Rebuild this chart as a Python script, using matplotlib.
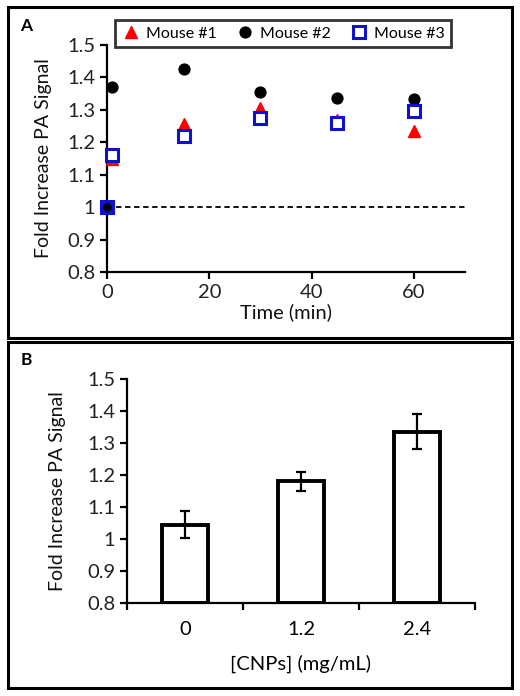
import matplotlib
matplotlib.use("Agg")
from matplotlib import pyplot as plt
from matplotlib.patches import Rectangle

plt.rcParams['font.family'] = ['Lato', 'DejaVu Sans']

# panel A: PA signal over time, per mouse
time_min = [0, 1, 15, 30, 45, 60]
mouse1 = [1.0, 1.15, 1.255, 1.305, 1.268, 1.235]
mouse2 = [1.0, 1.37, 1.425, 1.355, 1.338, 1.335]
mouse3 = [1.0, 1.16, 1.22, 1.275, 1.258, 1.298]

# panel B: PA signal vs CNP concentration
cnp_labels = ['0', '1.2', '2.4']
cnp_mean = [1.045, 1.18, 1.335]
cnp_err = [0.043, 0.03, 0.055]

fig = plt.figure(figsize=(5.2, 6.96), dpi=100)

# panel frames
for (x0, y0, x1, y1) in [(8, 7, 512, 338), (8, 342, 512, 688)]:
    fig.patches.append(Rectangle((x0 / 520, 1 - y1 / 696), (x1 - x0) / 520, (y1 - y0) / 696,
                                 transform=fig.transFigure, fill=False, edgecolor='black',
                                 linewidth=2.2))

def style_axes(ax):
    for s in ['top', 'right']:
        ax.spines[s].set_visible(False)
    for s in ['left', 'bottom']:
        ax.spines[s].set_linewidth(1.6)
    ax.tick_params(axis='both', width=1.6, length=5, labelsize=14.5, colors='black',
                   labelcolor='#222222')
    ax.set_ylim(0.8, 1.5)
    ax.set_yticks([0.8, 0.9, 1.0, 1.1, 1.2, 1.3, 1.4, 1.5])
    ax.set_yticklabels(['0.8', '0.9', '1', '1.1', '1.2', '1.3', '1.4', '1.5'])
    ax.set_ylabel('Fold Increase PA Signal', fontsize=14, color='#111111')

# ---- panel A
axA = fig.add_axes([107 / 520, 1 - 272 / 696, (465 - 107) / 520, (272 - 45) / 696])
style_axes(axA)
axA.set_xlim(0, 70)
axA.set_xticks([0, 20, 40, 60])
axA.axhline(1.0, color='black', linestyle='--', linewidth=1.3, dashes=(3, 2))
axA.plot(time_min, mouse1, linestyle='none', marker='^', color='red', markersize=8,
         clip_on=False, label='Mouse #1', zorder=3)
axA.plot(time_min, mouse2, linestyle='none', marker='o', color='black', markersize=7.8,
         clip_on=False, label='Mouse #2', zorder=3)
axA.plot(time_min, mouse3, linestyle='none', marker='s', markerfacecolor='white',
         markeredgecolor='#1010d0', markeredgewidth=2.2, markersize=8.5,
         clip_on=False, label='Mouse #3', zorder=4)
# filled square at baseline
axA.plot([time_min[0]], [mouse3[0]], linestyle='none', marker='s', color='#1010d0',
         markersize=9, clip_on=False, zorder=5)
axA.plot([time_min[0]], [mouse2[0]], linestyle='none', marker='o', color='black',
         markersize=5, clip_on=False, zorder=6)
axA.set_xlabel('Time (min)', fontsize=14.5, labelpad=2, color='#111111')
axA.yaxis.set_label_coords(-0.155, 0.5)
leg = axA.legend(loc='upper center', bbox_to_anchor=(283 / 520, 1 - 20 / 696),
                 bbox_transform=fig.transFigure, ncol=3, frameon=True, fancybox=False,
                 fontsize=11.5, handletextpad=0.35, columnspacing=1.15, handlelength=1.2,
                 borderpad=0.4, borderaxespad=0)
leg.get_frame().set_edgecolor('black')
leg.get_frame().set_linewidth(2)
fig.text(20 / 520, 1 - 26 / 696, 'A', fontsize=12.5, fontweight='bold', va='center', ha='left')

# ---- panel B
axB = fig.add_axes([127 / 520, 1 - 603 / 696, (475 - 127) / 520, (603 - 379) / 696])
style_axes(axB)
pos = list(range(len(cnp_labels)))
axB.bar(pos, [m - 0.8 for m in cnp_mean], bottom=0.8, width=0.4, color='white',
        edgecolor='black', linewidth=2.8, zorder=2)
axB.errorbar(pos, cnp_mean, yerr=cnp_err, fmt='none', ecolor='black', elinewidth=1.6,
             capsize=3.5, capthick=1.6, zorder=3)
axB.set_xlim(-0.5, 2.5)
axB.set_xticks([-0.5, 0.5, 1.5, 2.5])
axB.set_xticklabels([])
axB.set_xticks(pos, minor=True)
axB.set_xticklabels(cnp_labels, minor=True)
axB.tick_params(axis='x', which='minor', length=0, labelsize=14.5, pad=13)
axB.set_xlabel('[CNPs] (mg/mL)', fontsize=14.5, labelpad=12)
axB.yaxis.set_label_coords(-0.175, 0.5)
fig.text(21 / 520, 1 - 360 / 696, 'B', fontsize=12.5, fontweight='bold', va='center', ha='left')

fig.savefig('out.png', dpi=100)
